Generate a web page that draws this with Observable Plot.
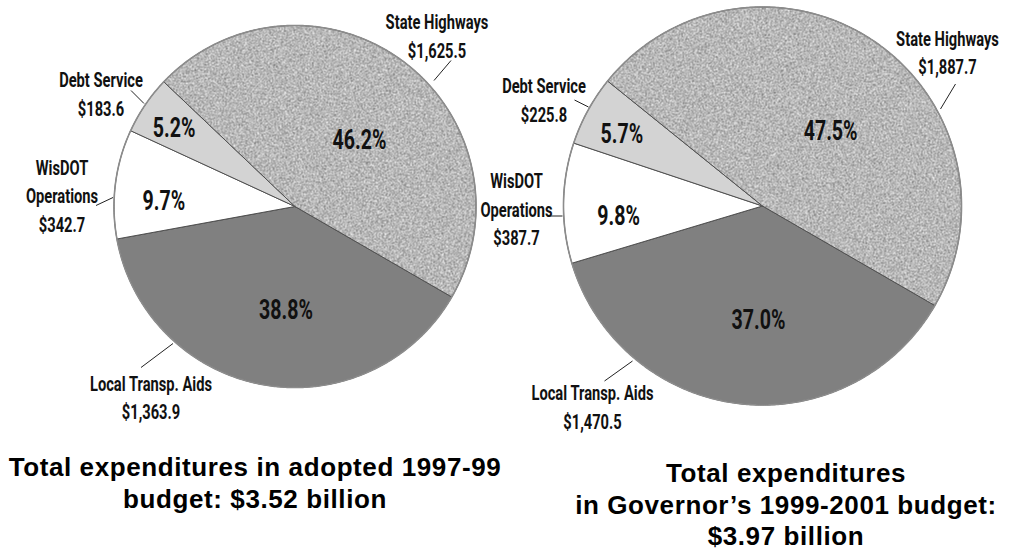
<!DOCTYPE html>
<html><head><meta charset="utf-8">
<script src="https://cdn.jsdelivr.net/npm/d3@7"></script>
<script src="https://cdn.jsdelivr.net/npm/@observablehq/plot@0.6"></script>
<style>
body{margin:0;background:#fff;width:1010px;height:552px;position:relative;overflow:hidden}
#chart{position:absolute;left:0;top:0}
.cap{position:absolute;font-family:"Liberation Sans",Arial,sans-serif;font-weight:bold;font-size:26px;line-height:31.5px;text-align:center;color:#000;letter-spacing:0.6px;white-space:nowrap}
</style></head><body>
<div id="chart"></div>
<div class="cap" id="cap0" style="left:5px;top:452px;width:500px"></div>
<div class="cap" id="cap1" style="left:536px;top:458px;width:500px"></div>
<script>
// ---- data ----
const categories = ["Local Transp. Aids", "WisDOT Operations", "Debt Service", "State Highways"];
const values1997 = [1363.9, 342.7, 183.6, 1625.5];   // $ millions, adopted 1997-99
const values1999 = [1470.5, 387.7, 225.8, 1887.7];   // $ millions, Governor's 1999-2001
const captionLines1997 = ["Total expenditures in adopted 1997-99", "budget: $3.52 billion"];
const captionLines1999 = ["Total expenditures", "in Governor\u2019s 1999-2001 budget:", "$3.97 billion"];

// ---- layout / style ----
const W = 1010, H = 440;
const STYLE = {
  "Local Transp. Aids": {fill: "#808080", t: 0.465, rr: 0.575},
  "WisDOT Operations":  {fill: "#ffffff", t: 0.36,  rr: 0.725},
  "Debt Service":       {fill: "#d3d3d3", t: 0.43,  rr: 0.795},
  "State Highways":     {fill: "url(#stipple)", t: 0.545, rr: 0.51}
};
// outer label placement, px offsets from each pie centre: leader start, leader end, text-block centre
const OUTER = [
  {
    "State Highways":     {p1: [139, -126], p2: [156, -146], txt: [142, -172]},
    "Debt Service":       {p1: [-151, -103], p2: [-164, -116], txt: [-194, -114]},
    "WisDOT Operations":  {p1: [-182, -9], p2: [-199, -1], txt: [-233, -12.5]},
    "Local Transp. Aids": {p1: [-122, 137], p2: [-154, 161], txt: [-144, 189.5]}
  },
  {
    "State Highways":     {p1: [178, -97], p2: [193, -122], txt: [185, -155]},
    "Debt Service":       {p1: [-174, -99], p2: [-188, -106], txt: [-218.5, -107.5]},
    "WisDOT Operations":  {p1: [-200, 10], p2: [-213, 10], txt: [-246, 1.5]},
    "Local Transp. Aids": {p1: [-130, 155], p2: [-158, 175], txt: [-170, 199.5]}
  }
];
const PIES = [
  {cx: 294.5, cy: 206, r: 181, values: values1997},
  {cx: 762, cy: 205.5, r: 199, values: values1999}
];

const pieGen = d3.pie().sort(null).value(d => d.value)
  .startAngle(2 * Math.PI / 3).endAngle(2 * Math.PI / 3 + 2 * Math.PI);
const fmtPct = d3.format(".1f"), fmtVal = d3.format(",.1f");
const FONT = "Roboto, 'Liberation Sans', sans-serif";

const marks = [];
PIES.forEach((P, pi) => {
  const rows = categories.map((c, i) => ({category: c, value: P.values[i]}));
  const total = d3.sum(rows, d => d.value);
  const arcs = pieGen(rows);
  const pt = (a, rad) => ({x: P.cx + rad * Math.sin(a), y: P.cy - rad * Math.cos(a)});
  arcs.forEach(a => {
    const n = Math.max(2, Math.ceil((a.endAngle - a.startAngle) / (Math.PI / 360)));
    const pts = [{x: P.cx, y: P.cy}];
    for (let k = 0; k <= n; k++) pts.push(pt(a.startAngle + (a.endAngle - a.startAngle) * k / n, P.r));
    pts.push({x: P.cx, y: P.cy});
    marks.push(Plot.line(pts, {x: "x", y: "y", fill: STYLE[a.data.category].fill,
      stroke: "#505050", strokeWidth: 1, strokeLinejoin: "round"}));
  });
  // outer rim
  const rim = d3.range(0, 721).map(k => pt(k * Math.PI / 360, P.r));
  marks.push(Plot.line(rim, {x: "x", y: "y", stroke: "#8c8c8c", strokeWidth: 1.6}));
  // percent labels
  const pctRows = arcs.map(a => {
    const s = STYLE[a.data.category];
    const p = pt(a.startAngle + (a.endAngle - a.startAngle) * s.t, P.r * s.rr);
    return {x: p.x, y: p.y, text: fmtPct(a.data.value / total * 100) + "%"};
  });
  marks.push(Plot.text(pctRows, {x: "x", y: "y", text: "text", fontSize: 28, fontWeight: "bold",
    fontFamily: FONT, fill: "#111"}));
  // outer labels + leaders
  const L = OUTER[pi];
  const leaderRows = rows.map(d => {
    const o = L[d.category];
    return {x1: P.cx + o.p1[0], y1: P.cy + o.p1[1], x2: P.cx + o.p2[0], y2: P.cy + o.p2[1]};
  });
  marks.push(Plot.link(leaderRows, {x1: "x1", y1: "y1", x2: "x2", y2: "y2", stroke: "#222", strokeWidth: 1}));
  const labRows = rows.map(d => {
    const o = L[d.category];
    return {x: P.cx + o.txt[0], y: P.cy + o.txt[1],
      text: d.category.replace("WisDOT ", "WisDOT\n") + "\n$" + fmtVal(d.value)};
  });
  marks.push(Plot.text(labRows, {x: "x", y: "y", text: "text", fontSize: 21, fontWeight: "bold",
    lineHeight: 1.36, fontFamily: FONT, fill: "#111"}));
});

const chart = Plot.plot({
  width: W, height: H, margin: 0,
  x: {domain: [0, W], axis: null},
  y: {domain: [0, H], range: [0, H], axis: null},
  style: {background: "transparent", overflow: "visible"},
  marks
});

// texture for State Highways + condensed lettering
const ns = "http://www.w3.org/2000/svg";
const defs = document.createElementNS(ns, "defs");
defs.innerHTML = `
  <filter id="grain" x="0" y="0" width="100%" height="100%" color-interpolation-filters="sRGB">
    <feTurbulence type="fractalNoise" baseFrequency="0.75" numOctaves="3" seed="4"/>
    <feColorMatrix type="matrix" values="1.0 0 0 0 0.22  1.0 0 0 0 0.22  1.0 0 0 0 0.22  0 0 0 0 1"/>
  </filter>
  <pattern id="stipple" patternUnits="userSpaceOnUse" x="0" y="0" width="${W}" height="${H}">
    <rect width="${W}" height="${H}" fill="#b4b4b4" filter="url(#grain)"/>
  </pattern>`;
chart.insertBefore(defs, chart.firstChild);
chart.querySelectorAll("text").forEach(t => {
  const tr = t.getAttribute("transform") || "";
  t.setAttribute("transform", tr + " scale(0.7,1)");
});
document.getElementById("chart").appendChild(chart);
document.getElementById("cap0").innerHTML = captionLines1997.join("<br>");
document.getElementById("cap1").innerHTML = captionLines1999.join("<br>");
</script>
</body></html>
